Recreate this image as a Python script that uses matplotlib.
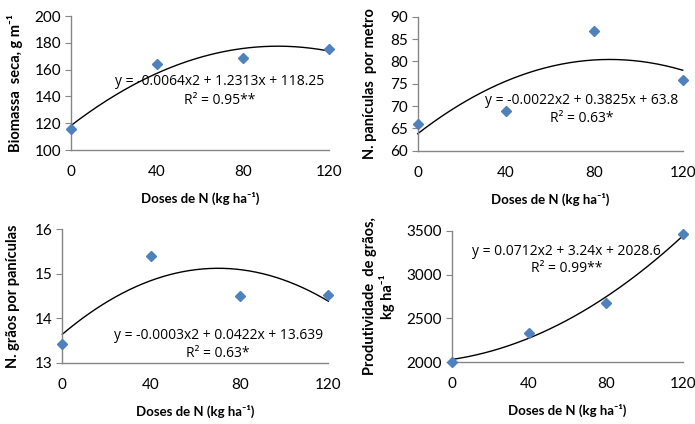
import matplotlib
matplotlib.use("Agg")
import matplotlib.pyplot as plt
import numpy as np

plt.rcParams['font.family'] = ['Lato', 'DejaVu Sans']

doses = [0, 40, 80, 120]
x_ticks = [0, 40, 80, 120]

biomassa = [115.7, 164.0, 168.4, 175.6]
paniculas = [66.0, 68.9, 86.9, 75.8]
graos = [13.43, 15.4, 14.5, 14.53]
produtividade = [2005, 2335, 2680, 3460]

coef_biomassa = [-0.0064, 1.2313, 118.25]
coef_paniculas = [-0.0022, 0.3825, 63.8]
coef_graos = [-0.0003, 0.0422, 13.639]
coef_produtividade = [0.0712, 3.24, 2028.6]

eq_biomassa = "y = -0.0064x2 + 1.2313x + 118.25"
eq_paniculas = "y = -0.0022x2 + 0.3825x + 63.8"
eq_graos = "y = -0.0003x2 + 0.0422x + 13.639"
eq_produtividade = "y = 0.0712x2 + 3.24x + 2028.6"

r2_biomassa = "R² = 0.95**"
r2_paniculas = "R² = 0.63*"
r2_graos = "R² = 0.63*"
r2_produtividade = "R² = 0.99**"

ylab_biomassa = "Biomassa  seca, g m⁻¹"
ylab_paniculas = "N. panículas  por metro"
ylab_graos = "N. grãos por panículas"
ylab_produtividade = "Produtividade  de grãos,\nkg ha⁻¹"
xlab = "Doses de N (kg ha⁻¹)"

W, H = 695, 424
fig = plt.figure(figsize=(W / 100, H / 100), dpi=100)

def px_axes(l, t, r, b):
    return fig.add_axes([l / W, 1 - b / H, (r - l) / W, (b - t) / H])

panels = [
    dict(box=(71, 16, 329, 150), y=biomassa, coef=coef_biomassa, ylim=(100, 200), ystep=20,
         eq=eq_biomassa, r2=r2_biomassa, eqpos=(0.578, 0.51), r2pos=(0.578, 0.373),
         ylab=ylab_biomassa, ylx=15),
    dict(box=(417.7, 16.7, 682.7, 150.7), y=paniculas, coef=coef_paniculas, ylim=(60, 90), ystep=5,
         eq=eq_paniculas, r2=r2_paniculas, eqpos=(0.619, 0.378), r2pos=(0.619, 0.242),
         ylab=ylab_paniculas, ylx=370),
    dict(box=(62.3, 229.3, 328.3, 362.7), y=graos, coef=coef_graos, ylim=(13, 16), ystep=1,
         eq=eq_graos, r2=r2_graos, eqpos=(0.586, 0.205), r2pos=(0.586, 0.067),
         ylab=ylab_graos, ylx=13),
    dict(box=(451.7, 231, 682.7, 362), y=produtividade, coef=coef_produtividade, ylim=(2000, 3500), ystep=500,
         eq=eq_produtividade, r2=r2_produtividade, eqpos=(0.498, 0.847), r2pos=(0.498, 0.712),
         ylab=ylab_produtividade, ylx=379),
]

axis_col = '#868686'
for p in panels:
    l, t, r, b = p['box']
    ax = px_axes(l, t, r, b)
    xs = np.linspace(0, 120, 200)
    ax.plot(xs, np.polyval(p['coef'], xs), color='black', lw=1.0, clip_on=False, zorder=2)
    ax.plot(doses, p['y'], linestyle='none', marker='D', ms=5, color='#4F81BD',
            clip_on=False, zorder=3)
    ax.set_xlim(0, 120)
    ax.set_ylim(*p['ylim'])
    ax.set_xticks(x_ticks)
    ax.set_yticks(np.arange(p['ylim'][0], p['ylim'][1] + p['ystep'] / 2, p['ystep']))
    for s in ['top', 'right']:
        ax.spines[s].set_visible(False)
    for s in ['left', 'bottom']:
        ax.spines[s].set_color(axis_col)
        ax.spines[s].set_linewidth(1.0)
    ax.tick_params(axis='y', direction='out', length=4, color=axis_col, labelsize=11, pad=3)
    ax.tick_params(axis='x', length=0, labelsize=11, pad=11)
    ax.text(*p['eqpos'], p['eq'], transform=ax.transAxes, ha='center', va='center',
            fontsize=10, family=['Open Sans', 'DejaVu Sans'])
    ax.text(*p['r2pos'], p['r2'], transform=ax.transAxes, ha='center', va='center',
            fontsize=10, family=['Open Sans', 'DejaVu Sans'])
    ax.set_xlabel(xlab, fontsize=9.5, fontweight='bold', labelpad=9)
    fig.text(p['ylx'] / W, 1 - ((t + b) / 2) / H, p['ylab'], rotation=90, ha='center', va='center',
             fontsize=10.5, fontweight='bold', multialignment='center', linespacing=1.1)

fig.savefig('out.png', dpi=100)
